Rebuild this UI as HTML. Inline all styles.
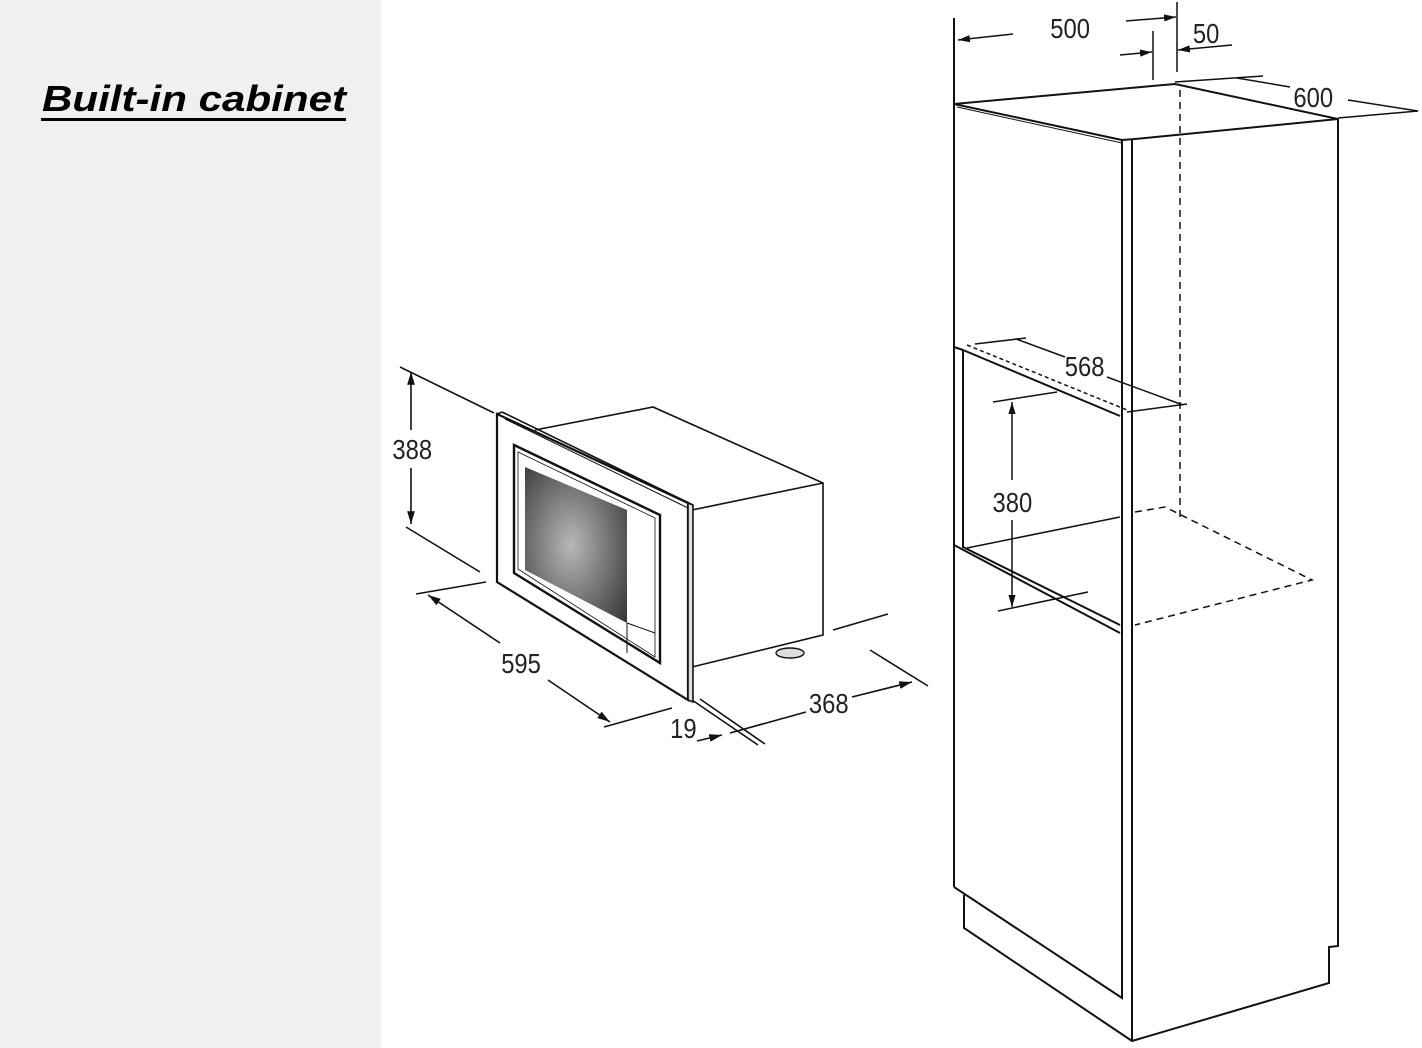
<!DOCTYPE html>
<html><head><meta charset="utf-8"><style>
html,body{margin:0;padding:0;background:#fff}
svg{display:block}
text{font-family:"Liberation Sans",sans-serif}
</style></head><body>
<svg width="1422" height="1048" viewBox="0 0 1422 1048" xmlns="http://www.w3.org/2000/svg">
<defs>
<radialGradient id="g" cx="0.45" cy="0.5" r="0.7">
<stop offset="0" stop-color="#b8b8b8"/><stop offset="0.5" stop-color="#787878"/><stop offset="1" stop-color="#3a3a3a"/>
</radialGradient>
<marker id="a" viewBox="0 0 10 10" refX="10" refY="5" markerWidth="8" markerHeight="8" orient="auto-start-reverse"><path d="M0,2 L10,5 L0,8z" fill="#111"/></marker>
</defs>
<rect x="0" y="0" width="381" height="1048" fill="#f0f0f0"/>
<text x="42" y="111" font-size="36" font-weight="bold" font-style="italic" fill="#000" textLength="304" lengthAdjust="spacingAndGlyphs">Built-in cabinet</text>
<rect x="41" y="118" width="305" height="3" fill="#000"/>

<g stroke="#111" stroke-width="1.6" fill="none">
<line x1="400" y1="367" x2="494" y2="413"/>
<line x1="406" y1="527" x2="480" y2="572"/>
<line x1="411" y1="372" x2="411" y2="430" marker-start="url(#a)"/>
<line x1="411" y1="468" x2="411" y2="524" marker-end="url(#a)"/>
<line x1="416" y1="594" x2="486" y2="582"/>
<line x1="428" y1="595" x2="500" y2="643" marker-start="url(#a)"/>
<line x1="548" y1="680" x2="610" y2="722" marker-end="url(#a)"/>
<line x1="604" y1="727" x2="672" y2="708"/>
<line x1="692" y1="700" x2="758" y2="745"/>
<line x1="700" y1="699" x2="765" y2="744"/>
<line x1="697" y1="741" x2="722" y2="735" marker-end="url(#a)"/>
<line x1="730" y1="733" x2="806" y2="712"/>
<line x1="852" y1="697" x2="912" y2="682" marker-end="url(#a)"/>
<line x1="870" y1="650" x2="928" y2="686"/>
<line x1="833" y1="630" x2="888" y2="614"/>
<polyline points="535,430 653,407 823,483 823,635 692,667"/>
<line x1="692" y1="510" x2="823" y2="483"/>
<polygon points="497,414 688,503 688,700 497,582" fill="#fff" stroke-width="2.2"/>
<polygon points="688,503 693,505 693,702 688,700" fill="#ddd"/>
<line x1="497" y1="414" x2="502" y2="412"/>
<line x1="502" y1="412" x2="693" y2="505"/>
<line x1="505" y1="419" x2="688" y2="508" stroke-width="1"/>
<polygon points="514,445 660,515 660,663 514,573" stroke-width="2.4"/>
<polygon points="518,452 655,518 655,657 518,569" stroke-width="0.8"/>
<polygon points="525,467 627,510 627,623 525,570" fill="url(#g)" stroke="none"/>
<polyline points="627,623 655,633" stroke-width="1"/>
<line x1="627" y1="623" x2="627" y2="653" stroke-width="1"/>
</g>
<ellipse cx="790" cy="653" rx="14" ry="5" fill="#ddd" stroke="#111" stroke-width="1.4"/>
<g font-size="28" fill="#222" text-anchor="middle" transform="scale(0.85,1)">
<text x="485" y="459">388</text>
<text x="613" y="673">595</text>
<text x="804" y="738">19</text>
<text x="975" y="713">368</text>
</g>

<g stroke="#111" stroke-width="2" fill="none">
<line x1="954" y1="18" x2="954" y2="887"/>
<polyline points="954,887 1122,998 1122,139"/>
<line x1="1132" y1="139" x2="1132" y2="1041"/>
<polyline points="964,895 964,928 1132,1041 1329,983 1329,947 1338,946 1338,119"/>
<line x1="954" y1="104" x2="1152" y2="86"/>
<polyline points="1152,86 1175,84 1338,119"/>
<line x1="954" y1="104" x2="1122" y2="140"/>
<line x1="957" y1="107" x2="1122" y2="143" stroke-width="1"/>
<line x1="1122" y1="140" x2="1135" y2="139"/>
<line x1="1135" y1="139" x2="1338" y2="119"/>
<line x1="954" y1="347" x2="963" y2="350"/>
<line x1="963" y1="350" x2="1120" y2="416"/>
<line x1="963" y1="350" x2="963" y2="548"/>
<line x1="967" y1="548" x2="1120" y2="517" stroke-width="1.5"/>
<line x1="954" y1="545" x2="1120" y2="633"/>
<line x1="963" y1="547" x2="1120" y2="625"/>
</g>
<g stroke="#111" stroke-width="1.5" fill="none" stroke-dasharray="7,5">
<line x1="1180" y1="90" x2="1180" y2="517"/>
<polyline points="1135,512 1165,507 1312,580 1135,625"/>
<line x1="967" y1="345" x2="1127" y2="410" stroke-dasharray="4,3"/>
</g>
<g stroke="#111" stroke-width="1.5" fill="none">
<line x1="1013" y1="34" x2="958" y2="40" marker-end="url(#a)"/>
<line x1="1177" y1="2" x2="1177" y2="72"/>
<line x1="1153" y1="31" x2="1153" y2="80"/>
<line x1="1126" y1="21" x2="1176" y2="17" marker-end="url(#a)"/>
<line x1="1120" y1="55" x2="1152" y2="52" marker-end="url(#a)"/>
<line x1="1178" y1="50" x2="1232" y2="45" marker-start="url(#a)"/>
<line x1="1175" y1="82" x2="1263" y2="76"/>
<line x1="1237" y1="78" x2="1290" y2="87"/>
<line x1="1348" y1="100" x2="1418" y2="111"/>
<line x1="1338" y1="118" x2="1418" y2="111"/>
<line x1="975" y1="344" x2="1026" y2="338"/>
<line x1="1016" y1="339" x2="1065" y2="357"/>
<line x1="1107" y1="377" x2="1183" y2="405"/>
<line x1="1127" y1="412" x2="1187" y2="404"/>
<line x1="993" y1="402" x2="1057" y2="392"/>
<line x1="998" y1="611" x2="1088" y2="592"/>
<line x1="1012" y1="402" x2="1012" y2="480" marker-start="url(#a)"/>
<line x1="1012" y1="520" x2="1012" y2="607" marker-end="url(#a)"/>
</g>
<g font-size="28" fill="#222" text-anchor="middle" transform="scale(0.85,1)">
<text x="1259" y="38">500</text>
<text x="1419" y="43">50</text>
<text x="1545" y="107">600</text>
<text x="1276" y="376">568</text>
<text x="1191" y="512">380</text>
</g>
</svg>
</body></html>
